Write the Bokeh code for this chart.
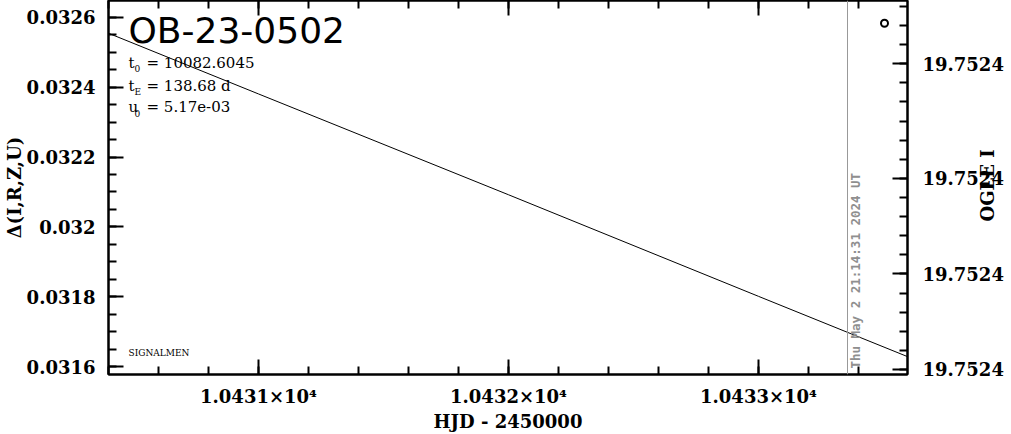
import math
import numpy as np
from bokeh.plotting import figure
from bokeh.models import (Range1d, LinearAxis, FixedTicker, SingleIntervalTicker,
                          PrintfTickFormatter, CustomJSTickFormatter, Label, Span)
from bokeh.embed import file_html
from bokeh.resources import INLINE

# ---------------- data ----------------
model_hjd = [10430.4, 10431.0, 10432.0, 10433.0, 10433.6]
model_delta = [0.0325545, 0.0323807, 0.0320920, 0.0318011, 0.0316273]

obs_hjd = [10433.504]
obs_delta = [0.032583]

x_tick_values = [10431, 10432, 10433]
x_tick_labels = ["1.0431×10⁴", "1.0432×10⁴", "1.0433×10⁴"]

mag_major = [19.7523903, 19.7523909, 19.7523914, 19.7523919]
mag_minor = [19.7523900, 19.7523901, 19.7523902, 19.7523903, 19.7523904,
             19.7523905, 19.7523906, 19.7523907, 19.7523908, 19.7523909,
             19.7523910, 19.7523911, 19.7523912, 19.7523913, 19.7523914,
             19.7523915, 19.7523916, 19.7523917, 19.7523918, 19.7523919]

event_name = "OB-23-0502"
param_main = ["t", "t", "u"]
param_sub = ["0", "E", "0"]
param_rest = [" = 10082.6045", " = 138.68 d", " = 5.17e-03"]
now_hjd = 10433.356
now_text = "Thu May  2 21:14:31 2024 UT"

# ---------------- ranges / layout ----------------
X_START, X_END = 10430.4, 10433.596
Y_START, Y_END = 0.03157727, 0.0326483
MAG_BOTTOM, MAG_TOP = 19.7523919263, 19.7523899689

W, H = 1011, 434
FL, FR, FT, FB = 108, 104, 0, 57
FW, FH = W - FL - FR, H - FT - FB


def fx(px):
    return X_START + (px - FL) * (X_END - X_START) / FW


def fy(py):
    return Y_END - (py - FT) * (Y_END - Y_START) / FH


def fyb(baseline_px, size_px):
    # Label anchor sits ~0.346 em above the glyph baseline
    return fy(baseline_px - 0.346 * size_px)


p = figure(width=W, height=H,
           x_range=Range1d(X_START, X_END), y_range=Range1d(Y_START, Y_END),
           output_backend="svg", toolbar_location=None,
           min_border_left=FL, min_border_right=FR,
           min_border_top=FT, min_border_bottom=FB)
p.extra_y_ranges = {"mag": Range1d(MAG_BOTTOM, MAG_TOP)}
p.grid.visible = False
p.outline_line_color = "black"
p.outline_line_width = 2
p.background_fill_color = "white"
p.border_fill_color = "white"

TICK_FONT = "DejaVu Serif"


def style_axis(ax):
    ax.axis_line_width = 2
    ax.axis_line_color = "black"
    ax.major_tick_line_width = 2
    ax.minor_tick_line_width = 2
    ax.major_tick_line_color = "black"
    ax.minor_tick_line_color = "black"
    ax.major_tick_in = 15
    ax.major_tick_out = 0
    ax.minor_tick_in = 8
    ax.minor_tick_out = 0
    ax.major_label_text_font = TICK_FONT
    ax.major_label_text_font_style = "bold"
    ax.major_label_text_font_size = "18px"
    ax.major_label_text_color = "black"
    ax.axis_label_text_font = TICK_FONT
    ax.axis_label_text_font_style = "bold"
    ax.axis_label_text_font_size = "18px"
    ax.axis_label_text_color = "black"


minor_x = [round(v, 1) for v in np.arange(10430.4, 10433.61, 0.2)]

xax = p.xaxis[0]
style_axis(xax)
xax.ticker = FixedTicker(ticks=x_tick_values, minor_ticks=minor_x)
xax.major_label_overrides = dict(zip(x_tick_values, x_tick_labels))
xax.major_label_standoff = 11
xax.axis_label = "HJD - 2450000"
xax.axis_label_standoff = 1

yax = p.yaxis[0]
style_axis(yax)
yax.ticker = SingleIntervalTicker(interval=0.0002, num_minor_ticks=4)
yax.formatter = CustomJSTickFormatter(
    code="return parseFloat(tick.toPrecision(6)).toString();")
yax.major_label_standoff = 13
yax.axis_label = "Δ(I,R,Z,U)"
yax.axis_label_standoff = -1

top = LinearAxis(ticker=FixedTicker(ticks=x_tick_values, minor_ticks=minor_x))
style_axis(top)
top.major_label_overrides = {v: "" for v in x_tick_values}
top.major_label_text_font_size = "0px"
top.major_label_standoff = 0
p.add_layout(top, "above")

right = LinearAxis(y_range_name="mag",
                   ticker=FixedTicker(ticks=mag_major, minor_ticks=mag_minor),
                   formatter=PrintfTickFormatter(format="%.4f"))
style_axis(right)
right.major_label_standoff = 15
right_label = "OGLE I"
props = right.properties()
if "axis_label_orientation" in props:
    right.axis_label_orientation = math.pi / 2
    if "axis_label_align" in props:
        right.axis_label_align = "end"
        right_label = "\u2003" * 8 + "\u2002" + right_label
right.axis_label = right_label
right.axis_label_standoff = -19
p.add_layout(right, "right")

# ---------------- marks ----------------
p.add_layout(Span(location=now_hjd, dimension="height",
                  line_color="#999999", line_width=1))
p.line(model_hjd, model_delta, line_color="black", line_width=1)
p.scatter(obs_hjd, obs_delta, marker="circle", size=7, line_width=2,
          line_color="black", fill_color="white")

# ---------------- texts ----------------
p.add_layout(Label(x=fx(128), y=fyb(43, 36), text=event_name,
                   text_font="DejaVu Sans", text_font_size="36px",
                   text_color="black", text_baseline="alphabetic"))

baselines = [68, 91, 113]
for m, s, r, b in zip(param_main, param_sub, param_rest, baselines):
    p.add_layout(Label(x=fx(128), y=fyb(b, 15), text=m, text_font="DejaVu Serif",
                       text_font_size="15px", text_color="black",
                       text_baseline="alphabetic"))
    p.add_layout(Label(x=fx(134), y=fyb(b + 4, 9), text=s, text_font="DejaVu Serif",
                       text_font_size="9px", text_color="black",
                       text_baseline="alphabetic"))
    p.add_layout(Label(x=fx(146), y=fyb(b, 15), text=r, text_font="DejaVu Serif",
                       text_font_size="15px", text_color="black",
                       text_baseline="alphabetic"))

p.add_layout(Label(x=fx(128), y=fyb(358, 9), text="SIGNALMEN",
                   text_font="DejaVu Serif", text_font_size="9px",
                   text_color="black", text_baseline="alphabetic"))

p.add_layout(Label(x=fx(855), y=fy(371), text=now_text, angle=math.pi / 2,
                   text_font="DejaVu Sans Mono", text_font_style="bold",
                   text_font_size="12.5px", text_color="#8f8f8f",
                   text_baseline="alphabetic", text_align="left"))

open("out.html", "w").write(file_html(p, INLINE))
